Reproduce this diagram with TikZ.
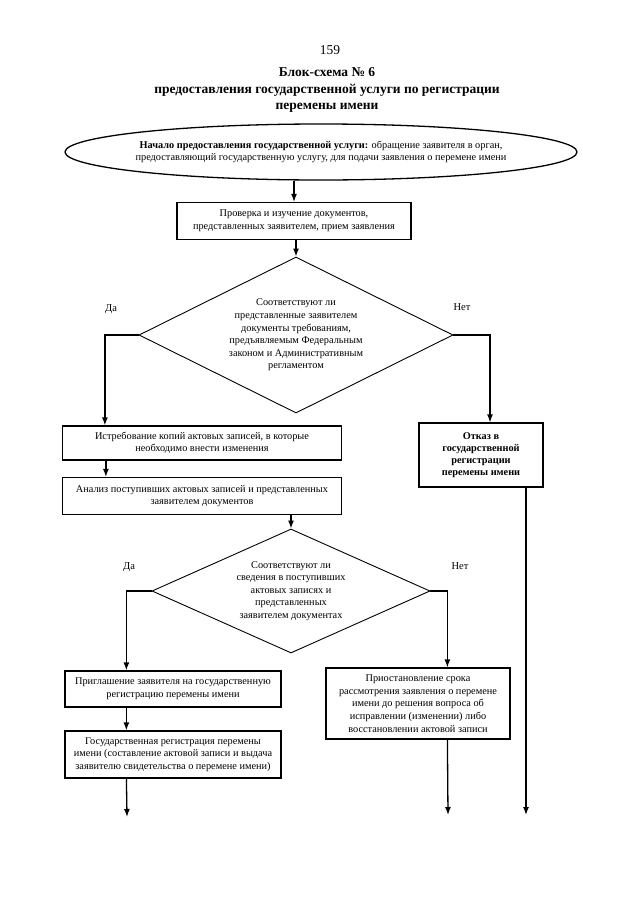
\documentclass[tikz,border=0pt]{standalone}
\usepackage{fontspec}
\setmainfont{Liberation Serif}
\usetikzlibrary{arrows.meta}
\usetikzlibrary{calc,shapes,positioning}

\begin{document}
\begin{tikzpicture}[x=1pt,y=-1pt,line width=1.3pt,
    every node/.style={font=\fontsize{10.3}{12.6}\selectfont},
    procBox/.style={draw, rectangle, align=center, inner sep=2pt, line width=1.2pt},
    choice/.style={draw, diamond, aspect=2, align=center, inner sep=0pt, line width=0.9pt},
    startEnd/.style={draw, ellipse, align=center, inner xsep=-8pt, inner ysep=0pt, minimum width=512, minimum height=56},
    answer/.style={font=\fontsize{10.5}{12.6}\selectfont},
    flow/.style={-{Latex[length=8pt,width=6pt]}},
    ]
    \path[fill=white, use as bounding box] (0,0) rectangle (640,905);

    \node (page) at (330,50) {\fontsize{13.5}{16}\selectfont 159};
    \node[align=center, font=\fontsize{13.5}{16.5}\selectfont\bfseries] (title) at (327,90) {Блок-схема № 6\\предоставления государственной услуги по регистрации\\перемены имени};

    \node[startEnd] (start) at (321,152) {\textbf{Начало предоставления государственной услуги:} обращение заявителя в орган,\\предоставляющий государственную услугу, для подачи заявления о перемене имени};
    \node[procBox, minimum width=234, minimum height=37] (check) at (294,221) {Проверка и изучение документов,\\представленных заявителем, прием заявления};
    \node[choice, minimum width=314, minimum height=156] (match1) at (296,335) {Соответствуют ли\\представленные заявителем\\документы требованиям,\\предъявляемым Федеральным\\законом и Административным\\регламентом};
    \node[answer] (yes1) at (111,309) {Да};
    \node[answer] (no1) at (462,307) {Нет};

    \node[procBox, minimum width=279, minimum height=34] (request) at (202,443) {Истребование копий актовых записей, в которые\\необходимо внести изменения};
    \node[procBox, font=\fontsize{10.3}{12}\selectfont\bfseries, minimum width=124, minimum height=64] (refuse) at (481,455) {Отказ в\\государственной\\регистрации\\перемены имени};
    \node[procBox, minimum width=279, minimum height=37] (analysis) at (202,496) {Анализ поступивших актовых записей и представленных\\заявителем документов};

    \node[choice, minimum width=278, minimum height=124] (match2) at (291,591) {Соответствуют ли\\сведения в поступивших\\актовых записях и\\представленных\\заявителем документах};
    \node[answer] (yes2) at (129,567) {Да};
    \node[answer] (no2) at (460,566) {Нет};

    \node[procBox, minimum width=216, minimum height=36] (invite) at (173,689) {Приглашение заявителя на государственную\\регистрацию перемены имени};
    \node[procBox, minimum width=216, minimum height=47] (register) at (173,754.5) {Государственная регистрация перемены\\имени (составление актовой записи и выдача\\заявителю свидетельства о перемене имени)};
    \node[procBox, minimum width=184, minimum height=71] (suspend) at (418,703.5) {Приостановление срока\\рассмотрения заявления о перемене\\имени до решения вопроса об\\исправлении (изменении) либо\\восстановлении актовой записи};

    \coordinate (regEnd) at (127,817);
    \coordinate (suspendEnd) at (448,815);
    \coordinate (refuseEnd) at (526,815);

    \draw[flow] (start.south -| check.north) -- (check.north);
    \draw[flow] (check.south -| match1.north) -- (match1.north);
    \draw[flow] (match1.west) -| ($(request.north west)+(43,0)$);
    \draw[flow] (match1.east) -| ($(refuse.north)+(9,0)$);
    \draw[flow] ($(request.south west)+(44,0)$) -- ($(analysis.north west)+(44,0)$);
    \draw[flow] (analysis.south -| match2.north) -- (match2.north);
    \draw[flow] (match2.west) -| ($(invite.north west)+(62,0)$);
    \draw[flow] (match2.east) -| ($(suspend.north west)+(122,0)$);
    \draw[flow] ($(invite.south west)+(62,0)$) -- ($(register.north west)+(62,0)$);
    \draw[flow] ($(register.south west)+(62,0)$) -- (regEnd);
    \draw[flow] ($(suspend.south west)+(122,0)$) -- (suspendEnd);
    \draw[flow] ($(refuse.south)+(45,0)$) -- (refuseEnd);
  \end{tikzpicture}
\end{document}
